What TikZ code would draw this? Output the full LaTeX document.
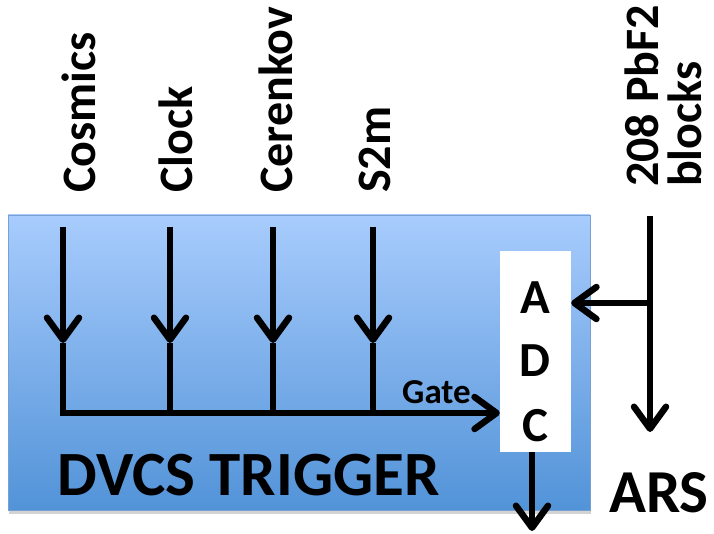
\documentclass[tikz,border=0pt]{standalone}
\usepackage{fontspec}
\setmainfont{Carlito}
\usetikzlibrary{arrows.meta,shadows}
\begin{document}
\begin{tikzpicture}[x=1pt,y=-1pt,
  wire/.style={line width=6.5pt},
  arr/.style={wire,-{Straight Barb[length=22pt,width=32pt,round]}},
  lbl/.style={inner sep=0pt,font=\bfseries\fontsize{48}{50}\selectfont},
  vlbl/.style={lbl,rotate=90,anchor=base west},
  letter/.style={inner sep=0pt,anchor=base,font=\bfseries\fontsize{49}{51}\selectfont}]
\useasboundingbox (0,0) rectangle (714,534);
% trigger box
\node[draw={rgb,255:red,120;green,160;blue,210},line width=0.8pt,
      top color={rgb,255:red,168;green,204;blue,253},
      bottom color={rgb,255:red,82;green,147;blue,216},
      drop shadow={shadow xshift=1pt,shadow yshift=-4pt,opacity=0.35},
      minimum width=582pt,minimum height=295pt,inner sep=0pt] (trig) at (299,362.5) {};
\node[lbl,anchor=base west,font=\bfseries\fontsize{63}{65}\selectfont] (trigl) at (57,495) {DVCS TRIGGER};
% ADC
\node[fill=white,minimum width=71pt,minimum height=201pt,inner sep=0pt] (adc) at (535.5,351.5) {};
\node[letter] (la) at (535,313) {A};
\node[letter] (ld) at (535,376) {D};
\node[letter] (lc) at (535,441) {C};
% labels
\node[vlbl] (cos) at (95,193) {Cosmics};
\node[vlbl] (clk) at (192,193) {Clock};
\node[vlbl] (cer) at (292,193) {Cerenkov};
\node[vlbl] (s2m) at (390,193) {S2m};
\node[vlbl] (pbf) at (658,187) {208 PbF2};
\node[vlbl] (blk) at (701,187) {blocks};
\node[inner sep=0pt,anchor=base west,font=\bfseries\fontsize{35}{37}\selectfont] (gate) at (402,403) {Gate};
\node[lbl,anchor=base west,font=\bfseries\fontsize{61}{63}\selectfont] (ars) at (609,512) {ARS};
% input lines
\foreach \n/\x in {a/63,b/170,c/273,d/373}{
  \coordinate (t\n) at (\x,227);
  \coordinate (m\n) at (\x,343);
  \coordinate (j\n) at (\x,413);
  \draw[arr] (t\n) -- (m\n);
  \draw[wire] (m\n) -- (j\n);
}
\coordinate (g0) at ([xshift=-3.25pt]ja);
\draw[arr] (g0) -- (adc.west |- ja);
% PbF2 line
\coordinate (pt) at (650,216);
\coordinate (pj) at (650,303);
\coordinate (pb) at (650,432);
\draw[arr] (pt) -- (pb);
\draw[arr] (pj) -- (adc.east |- pj);
% ADC output
\coordinate (ob) at (532,531);
\draw[arr] (adc.south -| ob) -- (ob);
\end{tikzpicture}
\end{document}
